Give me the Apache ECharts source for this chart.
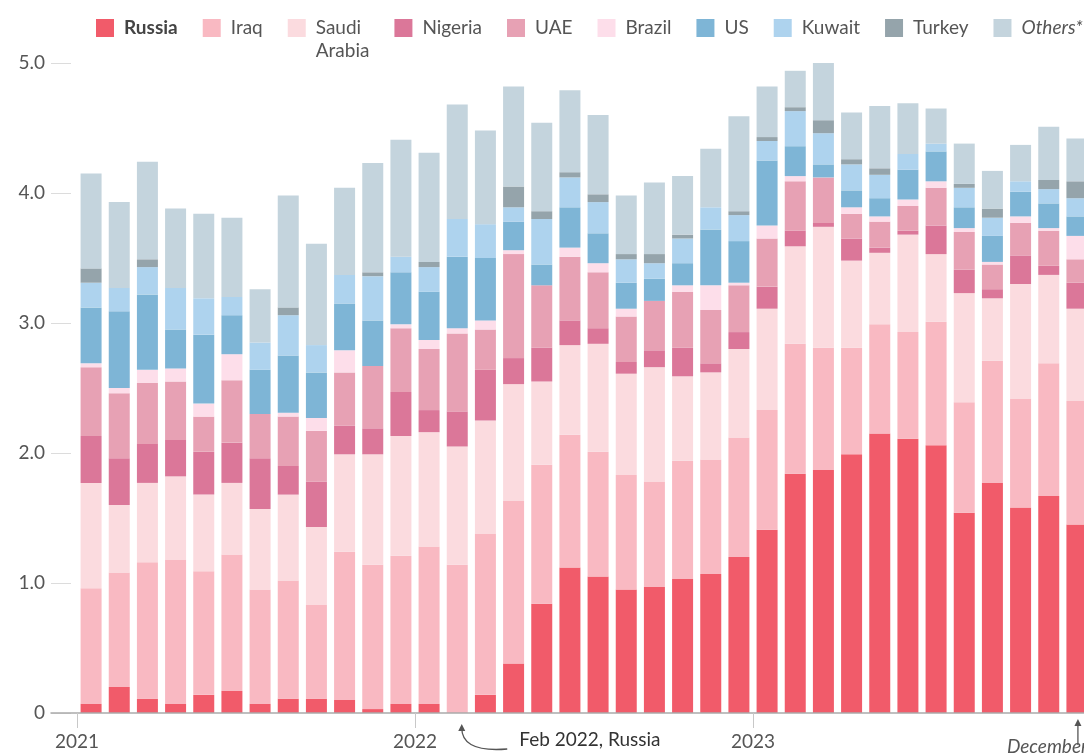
<!DOCTYPE html>
<html>
<head>
<meta charset="utf-8">
<script src="https://cdn.jsdelivr.net/npm/echarts@6/dist/echarts.min.js"></script>
<style>
html,body{margin:0;padding:0;overflow:hidden;background:#fff;width:1084px;height:755px;}
#chart{width:1200px;height:755px;}
</style>
</head>
<body>
<div id="chart"></div>
<script>
// ---- data (million barrels per day, monthly Jan 2021 - Dec 2023) ----
const months = [
  '2021-01','2021-02','2021-03','2021-04','2021-05','2021-06','2021-07','2021-08','2021-09','2021-10','2021-11','2021-12',
  '2022-01','2022-02','2022-03','2022-04','2022-05','2022-06','2022-07','2022-08','2022-09','2022-10','2022-11','2022-12',
  '2023-01','2023-02','2023-03','2023-04','2023-05','2023-06','2023-07','2023-08','2023-09','2023-10','2023-11','2023-12'
];
const yearLabels = ['2021','2022','2023'];
const yTickLabels = ['0','1.0','2.0','3.0','4.0','5.0'];

const russia  = [0.07,0.20,0.11,0.07,0.14,0.17,0.07,0.11,0.11,0.10,0.03,0.07, 0.07,0.00,0.14,0.38,0.84,1.12,1.05,0.95,0.97,1.03,1.07,1.20, 1.41,1.84,1.87,1.99,2.15,2.11,2.06,1.54,1.77,1.58,1.67,1.45];
const iraq    = [0.89,0.88,1.05,1.11,0.95,1.05,0.88,0.91,0.72,1.14,1.11,1.14, 1.21,1.14,1.24,1.25,1.07,1.02,0.96,0.88,0.81,0.91,0.88,0.92, 0.92,1.00,0.94,0.82,0.84,0.82,0.95,0.85,0.94,0.84,1.02,0.95];
const saudi   = [0.81,0.52,0.61,0.64,0.59,0.55,0.62,0.66,0.60,0.75,0.85,0.92, 0.88,0.91,0.87,0.90,0.64,0.69,0.83,0.78,0.88,0.65,0.67,0.68, 0.78,0.75,0.93,0.67,0.55,0.75,0.52,0.84,0.48,0.88,0.68,0.71];
const nigeria = [0.36,0.36,0.30,0.28,0.33,0.31,0.39,0.22,0.35,0.22,0.20,0.34, 0.17,0.27,0.39,0.20,0.26,0.19,0.12,0.09,0.13,0.22,0.07,0.13, 0.17,0.12,0.03,0.17,0.04,0.03,0.22,0.18,0.07,0.22,0.07,0.20];
const uae     = [0.53,0.50,0.47,0.45,0.27,0.48,0.34,0.38,0.39,0.41,0.48,0.49, 0.47,0.60,0.31,0.80,0.48,0.49,0.43,0.35,0.38,0.43,0.41,0.36, 0.37,0.38,0.35,0.19,0.20,0.19,0.29,0.29,0.19,0.25,0.27,0.18];
const brazil  = [0.03,0.04,0.10,0.10,0.10,0.20,0.00,0.03,0.10,0.17,0.00,0.03, 0.07,0.04,0.07,0.03,0.00,0.07,0.07,0.06,0.00,0.05,0.19,0.02, 0.10,0.04,0.00,0.05,0.04,0.05,0.05,0.03,0.02,0.05,0.02,0.18];
const us      = [0.43,0.59,0.58,0.30,0.53,0.30,0.34,0.44,0.35,0.36,0.35,0.40, 0.37,0.55,0.48,0.22,0.16,0.31,0.23,0.20,0.17,0.17,0.43,0.32, 0.50,0.23,0.10,0.13,0.14,0.23,0.23,0.16,0.20,0.19,0.19,0.15];
const kuwait  = [0.19,0.18,0.21,0.32,0.28,0.14,0.21,0.31,0.21,0.22,0.34,0.12, 0.19,0.29,0.26,0.11,0.35,0.23,0.24,0.18,0.12,0.19,0.17,0.20, 0.15,0.27,0.24,0.20,0.18,0.12,0.06,0.15,0.14,0.08,0.11,0.14];
const turkey  = [0.11,0.00,0.06,0.00,0.00,0.00,0.00,0.06,0.00,0.00,0.03,0.00, 0.04,0.00,0.00,0.16,0.06,0.04,0.06,0.04,0.07,0.03,0.00,0.03, 0.03,0.03,0.10,0.04,0.05,0.00,0.00,0.03,0.07,0.00,0.07,0.13];
const others  = [0.73,0.66,0.75,0.61,0.65,0.61,0.41,0.86,0.78,0.67,0.84,0.90, 0.84,0.88,0.72,0.77,0.68,0.63,0.61,0.45,0.55,0.45,0.45,0.73, 0.39,0.28,0.44,0.36,0.48,0.39,0.27,0.31,0.29,0.28,0.41,0.33];

const seriesNames  = ['Russia','Iraq','Saudi Arabia','Nigeria','UAE','Brazil','US','Kuwait','Turkey','Others*'];
const seriesValues = [russia, iraq, saudi, nigeria, uae, brazil, us, kuwait, turkey, others];
const colors = ['#f15b6a','#f9b9c2','#fbdbdf','#db7799','#e7a1b4','#fddeea','#7eb5d6','#aed3ee','#95a4ab','#c4d4dd'];

const annoFeb = {index: months.indexOf('2022-02'), text: 'Feb 2022, Russia'};
const annoDec = {index: months.indexOf('2023-12'), text: 'December'};

const FONT = 'Lato';
const chart = echarts.init(document.getElementById('chart'));

const series = seriesNames.map((n, k) => ({
  name: n,
  type: 'bar',
  stack: 'total',
  barWidth: 21,
  xAxisIndex: 0, yAxisIndex: 0,
  itemStyle: {color: colors[k]},
  emphasis: {disabled: true},
  data: seriesValues[k]
}));

// year ticks on a month-count scale (0 = start of Jan 2021)
const yearTicks = yearLabels.map((_, i) => i * 12);
const lead = 26 / 28.1667; // baseline extends left of first bar band

chart.setOption({
  animation: false,
  grid: [
    {left: 77, right: 109, top: 63, bottom: 42},
    {left: 51, right: 109, top: 63, bottom: 42}
  ],
  legend: {
    left: 96, top: -6.5, padding: 0,
    itemWidth: 18, itemHeight: 18, itemGap: 25, icon: 'rect',
    selectedMode: false,
    textStyle: {color: '#555', fontSize: 19, fontFamily: FONT, padding: [0, 0, 0, 5]},
    formatter: n => n === 'Saudi Arabia' ? ' \nSaudi\nArabia' : n,
    data: seriesNames.map(n => {
      if (n === 'Russia') return {name: n, textStyle: {fontWeight: 'bold', color: '#444'}};
      if (n === 'Saudi Arabia') return {name: n, textStyle: {lineHeight: 23}};
      if (n === 'Others*') return {name: n, textStyle: {fontStyle: 'italic'}};
      return n;
    })
  },
  xAxis: [
    {
      type: 'category', gridIndex: 0, data: months, boundaryGap: true,
      axisLine: {show: false}, axisTick: {show: false}, axisLabel: {show: false}, splitLine: {show: false}
    },
    {
      type: 'value', gridIndex: 1, min: -lead, max: months.length,
      z: 3,
      axisLine: {show: true, lineStyle: {color: '#aaa', width: 1.5}},
      axisTick: {show: true, customValues: yearTicks, length: 15, lineStyle: {color: '#c8c8c8'}},
      axisLabel: {
        customValues: yearTicks, margin: 19, color: '#555', fontSize: 19, fontFamily: FONT,
        formatter: v => yearLabels[Math.round(v / 12)]
      },
      splitLine: {show: false}
    }
  ],
  yAxis: [
    {
      type: 'value', gridIndex: 0, min: 0, max: 5, interval: 1, offset: 26,
      axisLine: {show: false},
      axisTick: {show: true, inside: true, length: 20, lineStyle: {color: '#dcdcdc'}},
      axisLabel: {margin: 6, color: '#555', fontSize: 19, fontFamily: FONT,
        formatter: v => yTickLabels[Math.round(v)]},
      splitLine: {show: false}
    },
    {
      type: 'value', gridIndex: 1, min: 0, max: 5, interval: 1, show: false
    }
  ],
  series: series
});

// annotations positioned from data coordinates
const pf = chart.convertToPixel({xAxisIndex: 0, yAxisIndex: 0}, [annoFeb.index, 0]);
const pd = chart.convertToPixel({xAxisIndex: 0, yAxisIndex: 0}, [annoDec.index, 0]);
const tip = [pf[0] + 4.5, pf[1] + 12];
const dtip = [pd[0] + 1, pd[1] + 7];
chart.setOption({
  graphic: [
    {type: 'bezierCurve', silent: true,
      shape: {x1: pf[0] + 50, y1: pf[1] + 36, cpx1: pf[0] + 14, cpy1: pf[1] + 39, cpx2: tip[0], cpy2: tip[1] + 16, x2: tip[0], y2: tip[1] + 3},
      style: {stroke: '#555', lineWidth: 1.3, fill: null}},
    {type: 'polygon', silent: true,
      shape: {points: [[tip[0], tip[1] - 1], [tip[0] - 3.5, tip[1] + 6], [tip[0] + 3.5, tip[1] + 6]]},
      style: {fill: '#555'}},
    {type: 'text', silent: true,
      style: {text: annoFeb.text, x: pf[0] + 62, y: pf[1] + 27, fill: '#333', font: '19px ' + FONT, verticalAlign: 'middle', align: 'left'}},
    {type: 'line', silent: true,
      shape: {x1: dtip[0], y1: dtip[1] + 3, x2: dtip[0], y2: pd[1] + 32},
      style: {stroke: '#555', lineWidth: 1.3}},
    {type: 'polygon', silent: true,
      shape: {points: [[dtip[0], dtip[1] - 1], [dtip[0] - 3.5, dtip[1] + 6], [dtip[0] + 3.5, dtip[1] + 6]]},
      style: {fill: '#555'}},
    {type: 'text', silent: true,
      style: {text: annoDec.text, x: pd[0] - 70, y: pd[1] + 34, fill: '#555', font: 'italic 19px ' + FONT, verticalAlign: 'middle', align: 'left'}}
  ]
});
</script>
</body>
</html>
